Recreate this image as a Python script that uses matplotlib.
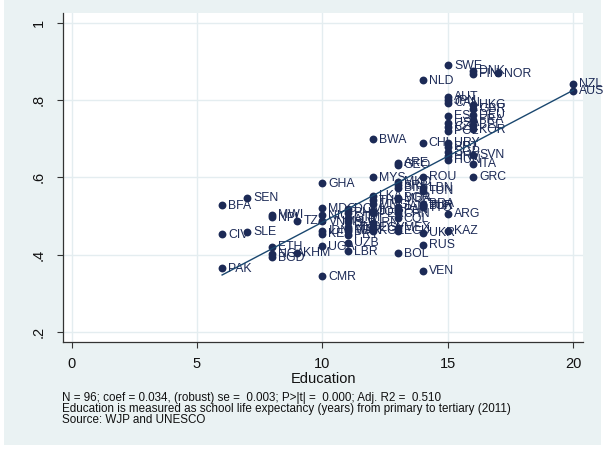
import matplotlib.pyplot as plt
import numpy as np
from matplotlib.patches import Rectangle

plt.rcParams['font.family'] = ['Liberation Sans', 'DejaVu Sans']

# school life expectancy (years) vs rule of law score, one entry per country
countries = [
    'BFA', 'CIV', 'PAK',
    'SEN', 'SLE',
    'MWI', 'NPL', 'ETH', 'NGA', 'BGD',
    'TZA', 'KHM',
    'GHA', 'MDG', 'NIC', 'VNM', 'IDN', 'KEN', 'UGA', 'CMR',
    'DOM', 'PHL', 'GTM', 'SLV', 'HND', 'MAR', 'PRY', 'UZB', 'LBR', 'ALB', 'IND',
    'BWA', 'MYS', 'LKA', 'THA', 'MNG', 'PER', 'IRN', 'EGY', 'KGZ', 'JOR',
    'ARE', 'GEO', 'MKD', 'SRB', 'BIH', 'BGR', 'JAM', 'PAN', 'CHN', 'COL',
    'MEX', 'ECU', 'BOL', 'MDA',
    'NLD', 'CHL', 'ROU', 'LBN', 'TUN', 'BLR', 'TTO', 'UKR', 'RUS', 'VEN',
    'BRA', 'TUR',
    'SWE', 'AUT', 'JPN', 'CAN', 'EST', 'USA', 'CZE', 'POL', 'URY', 'PRT',
    'SGP', 'HRV', 'HUN', 'ARG', 'KAZ',
    'DNK', 'FIN', 'HKG', 'GBR', 'DEU', 'FRA', 'BEL', 'KOR', 'SVN', 'ITA', 'GRC',
    'NOR',
    'NZL', 'AUS',
]
education = [
    6, 6, 6,
    7, 7,
    8, 8, 8, 8, 8,
    9, 9,
    10, 10, 10, 10, 10, 10, 10, 10,
    11, 11, 11, 11, 11, 11, 11, 11, 11, 11, 11,
    12, 12, 12, 12, 12, 12, 12, 12, 12, 12,
    13, 13, 13, 13, 13, 13, 13, 13, 13, 13,
    13, 13, 13, 13,
    14, 14, 14, 14, 14, 14, 14, 14, 14, 14,
    14, 14,
    15, 15, 15, 15, 15, 15, 15, 15, 15, 15,
    15, 15, 15, 15, 15,
    16, 16, 16, 16, 16, 16, 16, 16, 16, 16, 16,
    17,
    20, 20,
]
rule_of_law = [
    0.528, 0.453, 0.365,
    0.547, 0.459,
    0.503, 0.497, 0.420, 0.402, 0.393,
    0.488, 0.405,
    0.585, 0.520, 0.502, 0.486, 0.462, 0.454, 0.421, 0.344,
    0.518, 0.508, 0.495, 0.484, 0.472, 0.461, 0.451, 0.430, 0.409, 0.490, 0.466,
    0.699, 0.600, 0.552, 0.541, 0.530, 0.507, 0.483, 0.471, 0.461, 0.512,
    0.638, 0.632, 0.589, 0.580, 0.573, 0.547, 0.524, 0.516, 0.507, 0.494,
    0.470, 0.461, 0.403, 0.545,
    0.851, 0.689, 0.602, 0.573, 0.565, 0.528, 0.523, 0.457, 0.425, 0.358,
    0.531, 0.526,
    0.890, 0.808, 0.800, 0.793, 0.760, 0.741, 0.731, 0.720, 0.689, 0.679,
    0.666, 0.655, 0.645, 0.505, 0.462,
    0.876, 0.869, 0.788, 0.777, 0.762, 0.749, 0.736, 0.725, 0.658, 0.635, 0.601,
    0.870,
    0.842, 0.825,
]

# linear fit
fit_const = 0.142
fit_coef = 0.0342

x_ticks = [0, 5, 10, 15, 20]
y_ticks = [0.2, 0.4, 0.6, 0.8, 1.0]
y_tick_labels = ['.2', '.4', '.6', '.8', '1']

notes = [
    'N = 96; coef = 0.034, (robust) se =  0.003; P>|t| =  0.000; Adj. R2 =  0.510',
    'Education is measured as school life expectancy (years) from primary to tertiary (2011)',
    'Source: WJP and UNESCO',
]

W, H = 605, 450
navy = '#1c2a56'
fig = plt.figure(figsize=(W / 100, H / 100), dpi=100)
fig.patch.set_facecolor('white')
fig.patches.append(Rectangle((4 / W, 5 / H), 597 / W, 445 / H, transform=fig.transFigure,
                             facecolor='#eaf2f3', edgecolor='none', zorder=-10))

ax = fig.add_axes([63 / W, 108 / H, 520 / W, 328.7 / H])
ax.set_facecolor('white')

ax.scatter(education, rule_of_law, s=32, color=navy, linewidths=0, zorder=3)
for name, x, y in zip(countries, education, rule_of_law):
    ax.annotate(name, (x, y), xytext=(4.3, -0.3), textcoords='offset points',
                fontsize=8.8, color=navy, ha='left', va='center', zorder=4,
                annotation_clip=False)

xs = np.array([min(education), max(education)])
ax.plot(xs, fit_const + fit_coef * xs, color='#1a476f', lw=1.0, zorder=5)

ax.set_xlim(-0.34, 20.38)
ax.set_ylim(0.1736, 1.025)
ax.set_xticks(x_ticks)
ax.set_yticks(y_ticks)
ax.set_yticklabels(y_tick_labels)
ax.grid(True, color='#e4edf0', lw=1.0)
ax.set_axisbelow(True)

for side in ['top', 'right']:
    ax.spines[side].set_visible(False)
for side in ['left', 'bottom']:
    ax.spines[side].set_color('#333333')
    ax.spines[side].set_linewidth(0.9)

ax.tick_params(axis='both', length=4.5, width=0.8, color='#333333',
               labelsize=10.5, labelcolor='#111111')
ax.tick_params(axis='x', pad=6)
ax.tick_params(axis='y', pad=8, labelrotation=90)
for lbl in ax.get_yticklabels():
    lbl.set_va('center')

ax.set_xlabel('Education', fontsize=10.5, color='#111111', labelpad=1)

for i, line in enumerate(notes):
    fig.text(62 / W, 1 - (398 + 11 * i) / H, line, fontsize=8.4, color='#111111', va='center')

fig.savefig('out.png', dpi=100)
